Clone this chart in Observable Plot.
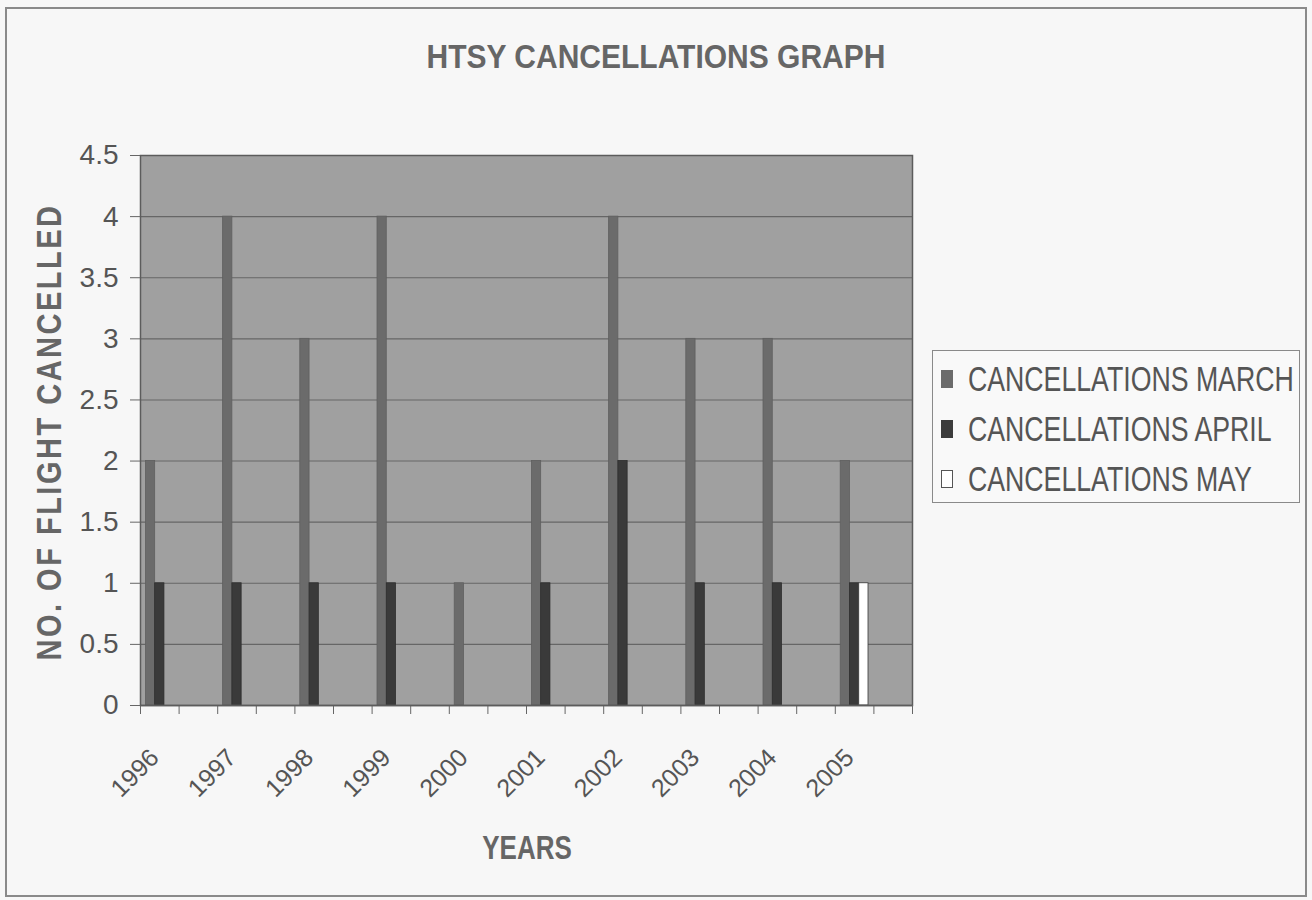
<!DOCTYPE html>
<html>
<head>
<meta charset="utf-8">
<script src="https://cdn.jsdelivr.net/npm/d3@7"></script>
<script src="https://cdn.jsdelivr.net/npm/@observablehq/plot@0.6"></script>
<style>
  html, body { margin: 0; padding: 0; background: #f7f7f7; }
  #wrap { position: relative; width: 1312px; height: 900px; overflow: hidden; }
  #border { position: absolute; left: 5px; top: 7px; width: 1298px; height: 886px; border: 2px solid #8a8a8a; box-sizing: content-box; }
  #chart { position: absolute; left: 0; top: 0; }
  #title { position: absolute; left: 0; width: 1312px; top: 40px; text-align: center; font-family: "Liberation Sans", Arial, sans-serif; font-weight: bold; font-size: 30px; color: #666; transform: scaleY(1.1); }
  #ylab { position: absolute; left: 50px; top: 432px; transform: translate(-50%, -50%) rotate(-90deg) scaleY(1.2); white-space: nowrap; font-family: "Liberation Sans", Arial, sans-serif; font-weight: bold; font-size: 29px; letter-spacing: 2.5px; color: #666; }
  #xlab { position: absolute; left: 527px; top: 848px; transform: translate(-50%, -50%) scaleY(1.3); font-family: "Liberation Sans", Arial, sans-serif; font-weight: bold; font-size: 26px; color: #666; }
  #legend { position: absolute; left: 932px; top: 350px; width: 366px; height: 151px; border: 1.5px solid #8a8a8a; background: #f9f9f9; }
  .row { position: absolute; left: 8px; height: 40px; display: flex; align-items: center; font-family: "Liberation Sans", Arial, sans-serif; font-size: 26.7px; color: #555; white-space: nowrap; }
  .row span { display: inline-block; transform: scaleY(1.3); }
  .sw { width: 12px; height: 18px; margin-right: 15px; box-sizing: border-box; }
</style>
</head>
<body>
<div id="wrap">
  <div id="border"></div>
  <div id="chart"></div>
  <div id="title">HTSY CANCELLATIONS GRAPH</div>
  <div id="ylab">NO. OF FLIGHT CANCELLED</div>
  <div id="xlab">YEARS</div>
  <div id="legend"></div>
</div>
<script>
// ---- data ----
const years = ["1996","1997","1998","1999","2000","2001","2002","2003","2004","2005"];
const seriesNames = ["CANCELLATIONS MARCH","CANCELLATIONS APRIL","CANCELLATIONS MAY"];
const march = [2, 4, 3, 4, 1, 2, 4, 3, 3, 2];
const april = [1, 1, 1, 1, 0, 1, 2, 1, 1, 1];
const may   = [0, 0, 0, 0, 0, 0, 0, 0, 0, 1];
const yTicks = [0, 0.5, 1, 1.5, 2, 2.5, 3, 3.5, 4, 4.5];

const colors = ["#6b6b6b", "#3a3a3a", "#ffffff"];
const strokes = ["#606060", "#2e2e2e", "#3a3a3a"];

// Excel layout: each year occupies one category slot followed by an empty slot (20 slots)
const nSlots = years.length * 2;
const barW = 0.24;            // bar width in slot units
const groupStart = (1 - 3 * barW) / 2;

const rows = [];
[march, april, may].forEach((vals, k) => {
  vals.forEach((v, i) => {
    if (v > 0) rows.push({year: years[i], slot: 2 * i, k, series: seriesNames[k], value: v});
  });
});

const font = '"Liberation Sans", Arial, sans-serif';

const plot = Plot.plot({
  width: 1312,
  height: 900,
  marginLeft: 140,
  marginRight: 400,
  marginTop: 155,
  marginBottom: 195,
  style: { background: "transparent", fontFamily: font, color: "#555", overflow: "visible" },
  x: { type: "linear", domain: [0, nSlots], axis: null },
  y: { domain: [0, 4.5], axis: null },
  marks: [
    Plot.frame({ fill: "#a0a0a0", stroke: null }),
    Plot.ruleY(yTicks.filter(d => d > 0), { stroke: "#666", strokeWidth: 1.1 }),
    Plot.rectY(rows, {
      x1: d => d.slot + groupStart + d.k * barW,
      x2: d => d.slot + groupStart + (d.k + 1) * barW,
      y1: 0,
      y2: "value",
      fill: d => colors[d.k],
      stroke: d => strokes[d.k],
      strokeWidth: 0.8
    }),
    Plot.frame({ stroke: "#5c5c5c", strokeWidth: 1.5 }),
    Plot.axisY({ ticks: yTicks, label: null, tickSize: 10, tickPadding: 12, fontSize: 28, stroke: "#666", color: "#555", tickFormat: d => String(d) }),
    Plot.axisX({ ticks: d3.range(0, nSlots + 1), label: null, tickSize: 9, tickFormat: () => "", stroke: "#666" }),
    Plot.axisX({
      ticks: years.map((_, i) => 2 * i + 0.5),
      label: null,
      tickFormat: v => years[Math.round((v - 0.5) / 2)],
      tickSize: 0, tickPadding: 48, tickRotate: -45, fontSize: 25, color: "#555", dx: -5
    }),
    Plot.ruleY([0], { stroke: "#5c5c5c", strokeWidth: 1.5 })
  ]
});
document.getElementById("chart").appendChild(plot);

// legend
const legend = document.getElementById("legend");
const legendSw = [
  { bg: "#6b6b6b", bd: "#6b6b6b" },
  { bg: "#3c3c3c", bd: "#3c3c3c" },
  { bg: "#ffffff", bd: "#555" }
];
seriesNames.forEach((name, k) => {
  const row = document.createElement("div");
  row.className = "row";
  row.style.top = (8 + k * 50) + "px";
  const sw = document.createElement("div");
  sw.className = "sw";
  sw.style.background = legendSw[k].bg;
  sw.style.border = "1.5px solid " + legendSw[k].bd;
  const t = document.createElement("span");
  t.textContent = name;
  row.appendChild(sw);
  row.appendChild(t);
  legend.appendChild(row);
});
</script>
</body>
</html>
